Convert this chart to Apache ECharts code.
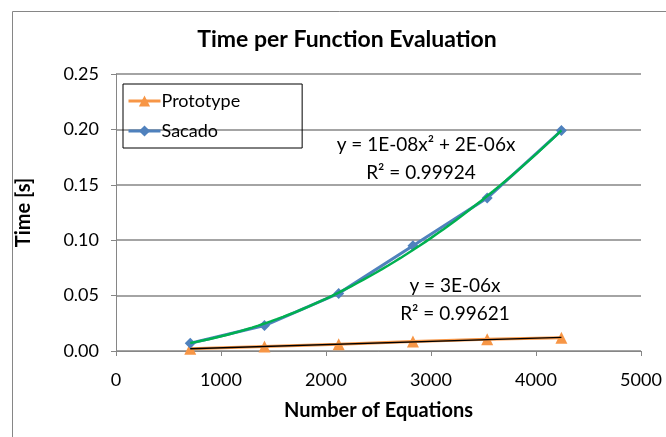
<!DOCTYPE html>
<html>
<head>
<meta charset="utf-8">
<script src="https://cdn.jsdelivr.net/npm/echarts@6/dist/echarts.min.js"></script>
<style>html,body{margin:0;padding:0;background:#fff;}#c{width:666px;height:437px;}</style>
</head>
<body>
<div id="c"></div>
<script>
var equations = [707, 1414, 2121, 2828, 3535, 4242];
var prototypeTime = [0.002, 0.004, 0.006, 0.0085, 0.0105, 0.012];
var sacadoTime = [0.007, 0.023, 0.052, 0.095, 0.138, 0.199];
var xTicks = [0, 1000, 2000, 3000, 4000, 5000];
var yTicks = [0, 0.05, 0.10, 0.15, 0.20, 0.25];
var chartTitle = 'Time per Function Evaluation';
var protoFitText = ['y = 3E-06x', 'R\u00b2 = 0.99621'];
var sacadoFitText = ['y = 1E-08x\u00b2 + 2E-06x', 'R\u00b2 = 0.99924'];

// least-squares trendlines through origin, derived from the data arrays
function linFit(xs, ys) {
  var sxy = 0, sxx = 0;
  for (var i = 0; i < xs.length; i++) { sxy += xs[i] * ys[i]; sxx += xs[i] * xs[i]; }
  return sxy / sxx;
}
function quadFit(xs, ys) {
  var s4 = 0, s3 = 0, s2 = 0, s2y = 0, s1y = 0;
  for (var i = 0; i < xs.length; i++) {
    var x = xs[i], y = ys[i];
    s4 += x * x * x * x; s3 += x * x * x; s2 += x * x; s2y += x * x * y; s1y += x * y;
  }
  var det = s4 * s2 - s3 * s3;
  return [(s2y * s2 - s3 * s1y) / det, (s4 * s1y - s3 * s2y) / det];
}
var m = linFit(equations, prototypeTime);
var q = quadFit(equations, sacadoTime);
var xmin = equations[0], xmax = equations[equations.length - 1];
var protoTrend = [], sacadoTrend = [];
for (var k = 0; k <= 60; k++) {
  var x = xmin + (xmax - xmin) * k / 60;
  sacadoTrend.push([x, q[0] * x * x + q[1] * x]);
}
protoTrend.push([xmin, m * xmin]);
protoTrend.push([xmax, m * xmax]);

var FONT = 'Lato';
var chart = echarts.init(document.getElementById('c'), null, {renderer: 'canvas'});
chart.setOption({
  animation: false,
  backgroundColor: '#fff',
  textStyle: {fontFamily: FONT},
  grid: {left: 116, right: 25, top: 74, bottom: 86},
  legend: {
    data: ['Prototype', 'Sacado'],
    orient: 'vertical',
    left: 123, top: 84,
    borderColor: '#000', borderWidth: 1,
    padding: [8, 62, 8, 4],
    itemGap: 12,
    itemWidth: 32, itemHeight: 14,
    lineStyle: {width: 3},
    textStyle: {fontFamily: FONT, fontSize: 18, color: '#000', padding: [0, 0, 0, -4]}
  },
  xAxis: {
    type: 'value', min: 0, max: 5000, interval: 1000,
    name: 'Number of Equations', nameLocation: 'middle', nameGap: 50,
    nameTextStyle: {fontFamily: FONT, fontWeight: 'bold', fontSize: 20, color: '#000'},
    axisLine: {show: true, lineStyle: {color: '#868686', width: 1}},
    axisTick: {show: true, inside: false, length: 5, lineStyle: {color: '#868686'}},
    axisLabel: {fontFamily: FONT, fontSize: 18, color: '#000', margin: 20,
      formatter: function (v) { return String(v); }},
    splitLine: {show: false}
  },
  yAxis: {
    type: 'value', min: 0, max: 0.25, interval: 0.05,
    name: 'Time [s]', nameLocation: 'middle', nameGap: 82, nameRotate: 90,
    nameTextStyle: {fontFamily: FONT, fontWeight: 'bold', fontSize: 20, color: '#000'},
    axisLine: {show: true, lineStyle: {color: '#868686', width: 1}},
    axisTick: {show: true, inside: false, length: 5, lineStyle: {color: '#868686'}},
    axisLabel: {fontFamily: FONT, fontSize: 18, color: '#000', margin: 17,
      formatter: function (v) { return v.toFixed(2); }},
    splitLine: {show: true, lineStyle: {color: '#868686', width: 1.5}}
  },
  series: [
    {
      name: 'Prototype', type: 'line',
      data: equations.map(function (x, i) { return [x, prototypeTime[i]]; }),
      symbol: 'triangle', symbolSize: 12,
      lineStyle: {color: '#F79646', width: 3},
      itemStyle: {color: '#F79646'},
      z: 2
    },
    {
      name: 'Sacado', type: 'line',
      data: equations.map(function (x, i) { return [x, sacadoTime[i]]; }),
      symbol: 'diamond', symbolSize: 11,
      lineStyle: {color: '#4F81BD', width: 3},
      itemStyle: {color: '#4F81BD'},
      z: 3
    },
    {
      name: 'Prototype trend', type: 'line', data: protoTrend,
      symbol: 'none', lineStyle: {color: '#000', width: 1.5}, z: 5, silent: true
    },
    {
      name: 'Sacado trend', type: 'line', data: sacadoTrend,
      symbol: 'none', smooth: false, lineStyle: {color: '#00B050', width: 2.5}, z: 5, silent: true
    }
  ],
  graphic: [
    {type: 'rect', left: 10, top: 9, shape: {width: 700, height: 460},
     style: {fill: 'none', stroke: '#868686', lineWidth: 1}, silent: true, z: -1},
    {type: 'text', x: 347, y: 40, style: {text: chartTitle, fontFamily: FONT, fontWeight: 'bold', fontSize: 23, fill: '#000', align: 'center', verticalAlign: 'middle'}},
    {type: 'text', x: 426, y: 145, style: {text: sacadoFitText[0], fontFamily: FONT, fontSize: 19, fill: '#000', align: 'center', verticalAlign: 'middle'}},
    {type: 'text', x: 421, y: 173, style: {text: sacadoFitText[1], fontFamily: FONT, fontSize: 19, fill: '#000', align: 'center', verticalAlign: 'middle'}},
    {type: 'text', x: 455, y: 286, style: {text: protoFitText[0], fontFamily: FONT, fontSize: 19, fill: '#000', align: 'center', verticalAlign: 'middle'}},
    {type: 'text', x: 455, y: 314, style: {text: protoFitText[1], fontFamily: FONT, fontSize: 19, fill: '#000', align: 'center', verticalAlign: 'middle'}}
  ]
});
</script>
</body>
</html>
